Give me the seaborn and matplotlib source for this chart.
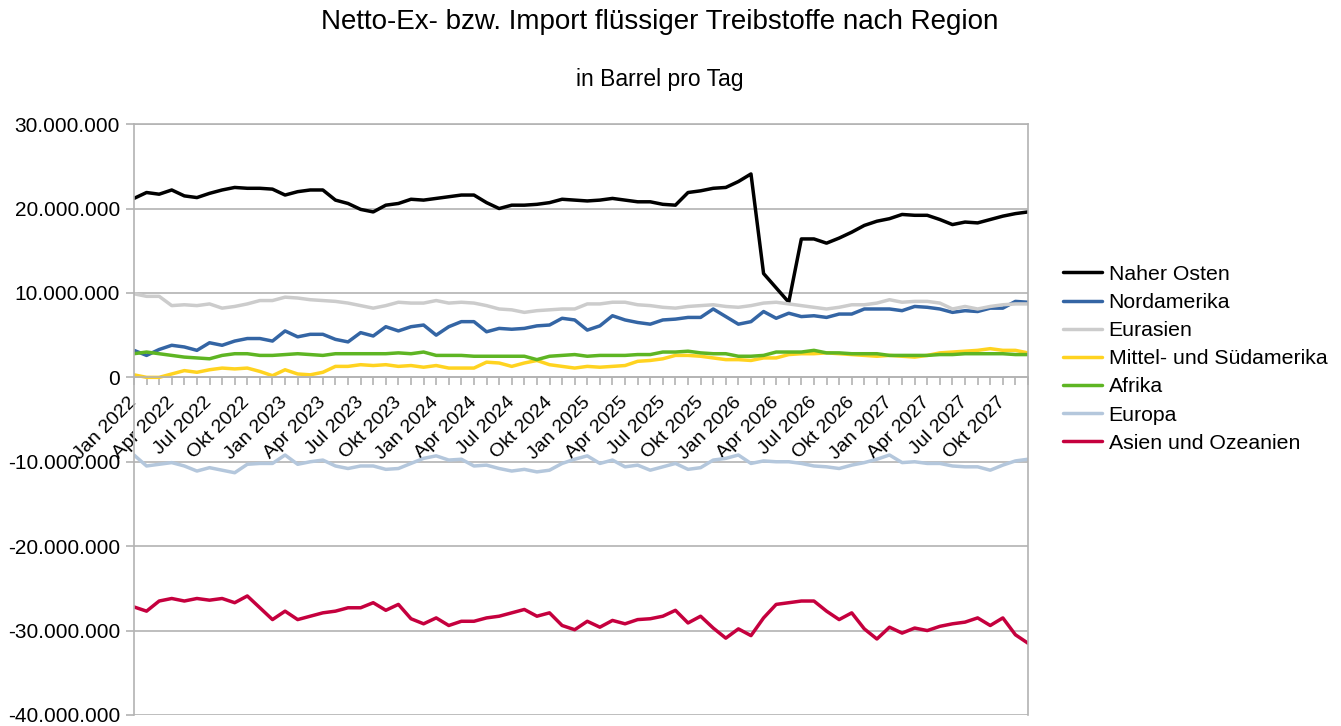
import matplotlib
matplotlib.use("Agg")
import matplotlib.pyplot as plt
import numpy as np
import pandas as pd
import seaborn as sns
from matplotlib.ticker import FuncFormatter, MultipleLocator

# Monate Jan 2022 .. Dez 2027 (72 Werte), Werte in Mio. Barrel pro Tag
jahre = [2022, 2023, 2024, 2025, 2026, 2027]
monate = ["Jan", "Feb", "Mär", "Apr", "Mai", "Jun", "Jul", "Aug", "Sep", "Okt", "Nov", "Dez"]
tick_monate = ["Jan", "Apr", "Jul", "Okt"]

naher_osten = [21.2, 21.9, 21.7, 22.2, 21.5, 21.3, 21.8, 22.2, 22.5, 22.4, 22.4, 22.3,
               21.6, 22.0, 22.2, 22.2, 21.0, 20.6, 19.9, 19.6, 20.4, 20.6, 21.1, 21.0,
               21.2, 21.4, 21.6, 21.6, 20.7, 20.0, 20.4, 20.4, 20.5, 20.7, 21.1, 21.0,
               20.9, 21.0, 21.2, 21.0, 20.8, 20.8, 20.5, 20.4, 21.9, 22.1, 22.4, 22.5,
               23.2, 24.1, 12.3, 10.6, 8.9, 16.4, 16.4, 15.9, 16.5, 17.2, 18.0, 18.5,
               18.8, 19.3, 19.2, 19.2, 18.7, 18.1, 18.4, 18.3, 18.7, 19.1, 19.4, 19.6]
nordamerika = [3.2, 2.6, 3.3, 3.8, 3.6, 3.2, 4.1, 3.8, 4.3, 4.6, 4.6, 4.3,
               5.5, 4.8, 5.1, 5.1, 4.5, 4.2, 5.3, 4.9, 6.0, 5.5, 6.0, 6.2,
               5.0, 6.0, 6.6, 6.6, 5.4, 5.8, 5.7, 5.8, 6.1, 6.2, 7.0, 6.8,
               5.6, 6.1, 7.3, 6.8, 6.5, 6.3, 6.8, 6.9, 7.1, 7.1, 8.1, 7.2,
               6.3, 6.6, 7.8, 7.0, 7.6, 7.2, 7.3, 7.1, 7.5, 7.5, 8.1, 8.1,
               8.1, 7.9, 8.4, 8.3, 8.1, 7.7, 7.9, 7.8, 8.2, 8.2, 9.0, 8.9]
eurasien = [9.9, 9.6, 9.6, 8.5, 8.6, 8.5, 8.7, 8.2, 8.4, 8.7, 9.1, 9.1,
            9.5, 9.4, 9.2, 9.1, 9.0, 8.8, 8.5, 8.2, 8.5, 8.9, 8.8, 8.8,
            9.1, 8.8, 8.9, 8.8, 8.5, 8.1, 8.0, 7.7, 7.9, 8.0, 8.1, 8.1,
            8.7, 8.7, 8.9, 8.9, 8.6, 8.5, 8.3, 8.2, 8.4, 8.5, 8.6, 8.4,
            8.3, 8.5, 8.8, 8.9, 8.7, 8.5, 8.3, 8.1, 8.3, 8.6, 8.6, 8.8,
            9.2, 8.9, 9.0, 9.0, 8.8, 8.1, 8.4, 8.1, 8.4, 8.6, 8.7, 8.7]
mittel_sued = [0.3, 0.0, 0.0, 0.4, 0.8, 0.6, 0.9, 1.1, 1.0, 1.1, 0.7, 0.2,
               0.9, 0.4, 0.3, 0.6, 1.3, 1.3, 1.5, 1.4, 1.5, 1.3, 1.4, 1.2,
               1.4, 1.1, 1.1, 1.1, 1.8, 1.7, 1.3, 1.7, 2.0, 1.5, 1.3, 1.1,
               1.3, 1.2, 1.3, 1.4, 1.9, 2.0, 2.2, 2.6, 2.6, 2.5, 2.3, 2.1,
               2.1, 2.0, 2.3, 2.3, 2.7, 2.8, 2.8, 2.9, 2.8, 2.7, 2.6, 2.5,
               2.6, 2.5, 2.4, 2.6, 2.9, 3.0, 3.1, 3.2, 3.4, 3.2, 3.2, 2.9]
afrika = [2.8, 3.0, 2.8, 2.6, 2.4, 2.3, 2.2, 2.6, 2.8, 2.8, 2.6, 2.6,
          2.7, 2.8, 2.7, 2.6, 2.8, 2.8, 2.8, 2.8, 2.8, 2.9, 2.8, 3.0,
          2.6, 2.6, 2.6, 2.5, 2.5, 2.5, 2.5, 2.5, 2.1, 2.5, 2.6, 2.7,
          2.5, 2.6, 2.6, 2.6, 2.7, 2.7, 3.0, 3.0, 3.1, 2.9, 2.8, 2.8,
          2.5, 2.5, 2.6, 3.0, 3.0, 3.0, 3.2, 2.9, 2.9, 2.8, 2.8, 2.8,
          2.6, 2.6, 2.6, 2.6, 2.7, 2.7, 2.8, 2.8, 2.8, 2.8, 2.7, 2.7]
europa = [-9.2, -10.5, -10.3, -10.1, -10.5, -11.1, -10.7, -11.0, -11.3, -10.3, -10.2, -10.2,
          -9.2, -10.3, -10.0, -9.8, -10.5, -10.8, -10.5, -10.5, -10.9, -10.8, -10.2, -9.6,
          -9.3, -9.8, -9.7, -10.5, -10.4, -10.8, -11.1, -10.9, -11.2, -11.0, -10.2, -9.7,
          -9.3, -10.2, -9.8, -10.6, -10.4, -11.0, -10.6, -10.2, -10.9, -10.7, -9.8, -9.6,
          -9.2, -10.2, -9.9, -10.0, -10.0, -10.2, -10.5, -10.6, -10.8, -10.4, -10.1, -9.7,
          -9.2, -10.1, -10.0, -10.2, -10.2, -10.5, -10.6, -10.6, -11.0, -10.4, -9.9, -9.7]
asien_ozeanien = [-27.2, -27.7, -26.5, -26.2, -26.5, -26.2, -26.4, -26.2, -26.7, -25.9, -27.3, -28.7,
                  -27.7, -28.7, -28.3, -27.9, -27.7, -27.3, -27.3, -26.7, -27.6, -26.9, -28.6, -29.2,
                  -28.5, -29.4, -28.9, -28.9, -28.5, -28.3, -27.9, -27.5, -28.3, -27.9, -29.4, -29.9,
                  -28.9, -29.6, -28.8, -29.2, -28.7, -28.6, -28.3, -27.6, -29.1, -28.3, -29.7, -30.9,
                  -29.8, -30.6, -28.5, -26.9, -26.7, -26.5, -26.5, -27.7, -28.7, -27.9, -29.8, -31.0,
                  -29.6, -30.3, -29.7, -30.0, -29.5, -29.2, -29.0, -28.5, -29.4, -28.5, -30.5, -31.5]

regionen = ["Naher Osten", "Nordamerika", "Eurasien", "Mittel- und Südamerika",
            "Afrika", "Europa", "Asien und Ozeanien"]
reihen = [naher_osten, nordamerika, eurasien, mittel_sued, afrika, europa, asien_ozeanien]
farben = ["#000000", "#3465a4", "#cccccc", "#ffd320", "#5eb523", "#b4c7dc", "#c5003e"]

# Long-Format fuer seaborn
monat_idx = np.arange(len(naher_osten))
df = pd.concat([pd.DataFrame({"monat": monat_idx,
                              "wert": np.array(r) * 1e6,
                              "region": name})
                for name, r in zip(regionen, reihen)], ignore_index=True)

sns.set_theme(style="white")
plt.rcParams["font.family"] = ["Liberation Sans", "DejaVu Sans"]
plt.rcParams["text.color"] = "black"
plt.rcParams["xtick.color"] = "black"
plt.rcParams["ytick.color"] = "black"

fig = plt.figure(figsize=(13.41, 7.26), dpi=100)
ax = fig.add_axes([0.0999, 0.0152, 0.6667, 0.8138])

sns.lineplot(data=df, x="monat", y="wert", hue="region", hue_order=regionen,
             palette=dict(zip(regionen, farben)), linewidth=2.5, ax=ax)

grau = "#b3b3b3"
ax.set_xlim(0, 71)
ax.set_ylim(-40e6, 30e6)
ax.yaxis.set_major_locator(MultipleLocator(10e6))
ax.yaxis.set_major_formatter(FuncFormatter(lambda v, p: f"{int(round(v)):,}".replace(",", ".")))
ax.grid(axis="y", color=grau, linewidth=1.2)
ax.set_axisbelow(True)

# x-Achse bei 0, Striche jeden Monat, Beschriftung jedes Quartal
ax.spines["bottom"].set_position(("data", 0))
for s in ax.spines.values():
    s.set_color(grau)
    s.set_linewidth(1.2)
ax.set_xticks(monat_idx)
labels = []
for j in jahre:
    for m in monate:
        labels.append(f"{m} {j}" if m in tick_monate else "")
ax.set_xticklabels(labels, rotation=45, ha="right", va="center",
                   rotation_mode="anchor", fontsize=14)
ax.tick_params(axis="x", length=6, width=1.2, color=grau, labelcolor="black", pad=10, bottom=True)
ax.tick_params(axis="y", length=6, width=1.2, color=grau, labelcolor="black", pad=4, left=True,
               labelsize=15)
ax.set_xlabel("")
ax.set_ylabel("")

h, l = ax.get_legend_handles_labels()
leg = ax.legend(h, l, loc="upper left", bbox_to_anchor=(0.7927, 0.6352),
                bbox_transform=fig.transFigure, frameon=False, fontsize=15.3,
                handlelength=1.85, handletextpad=0.3, labelspacing=0.43,
                borderpad=0, borderaxespad=0)
for t in leg.get_texts():
    t.set_color("black")

fig.text(0.492, 0.970, "Netto-Ex- bzw. Import flüssiger Treibstoffe nach Region",
         ha="center", va="center", fontsize=20, color="black")
fig.text(0.492, 0.891, "in Barrel pro Tag", ha="center", va="center", fontsize=16.5,
         color="black")

fig.savefig("out.png", dpi=100)
